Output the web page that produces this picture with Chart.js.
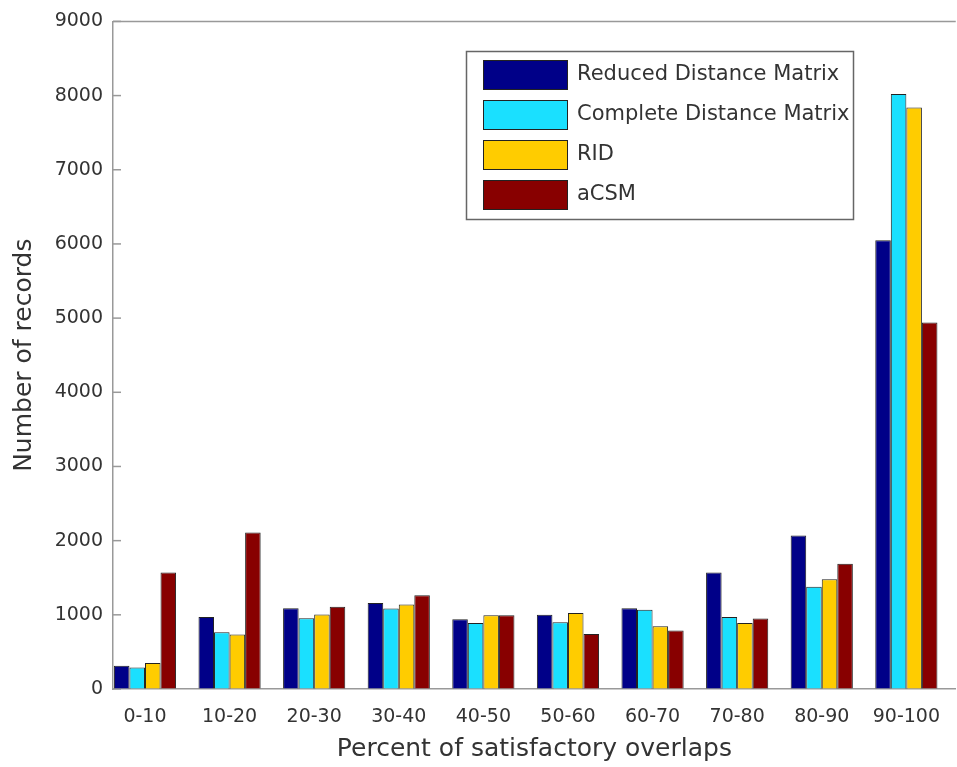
<!DOCTYPE html>
<html>
<head>
<meta charset="utf-8">
<script src="https://cdn.jsdelivr.net/npm/chart.js@4"></script>
<style>
  body { margin: 0; background: #fff; }
</style>
</head>
<body>
<canvas id="recordsChart" width="957" height="767"></canvas>
<script>
const categories = ['0-10', '10-20', '20-30', '30-40', '40-50', '50-60', '60-70', '70-80', '80-90', '90-100'];
const reducedDist = [315, 970, 1090, 1160, 940, 1000, 1090, 1570, 2070, 6050];
const completeDist = [290, 765, 955, 1085, 890, 900, 1070, 970, 1380, 8020];
const ridValues = [350, 735, 1005, 1140, 995, 1025, 845, 890, 1480, 7840];
const acsmValues = [1570, 2110, 1110, 1265, 995, 740, 790, 950, 1690, 4940];
const yTicks = [0, 1000, 2000, 3000, 4000, 5000, 6000, 7000, 8000, 9000];

const toPoints = vals => vals.map((v, i) => ({ x: i, y: v }));

const recordsData = {
    datasets: [
        { label: 'Reduced Distance Matrix', data: toPoints(reducedDist), backgroundColor: '#000088' },
        { label: 'Complete Distance Matrix', data: toPoints(completeDist), backgroundColor: '#1ae0ff' },
        { label: 'RID', data: toPoints(ridValues), backgroundColor: '#ffcc00' },
        { label: 'aCSM', data: toPoints(acsmValues), backgroundColor: '#880000' }
    ]
};
recordsData.datasets.forEach(ds => {
    ds.borderColor = '#222';
    ds.borderWidth = 1;
    ds.categoryPercentage = 0.735;
    ds.barPercentage = 1.0;
});

// top frame line + inward y ticks, matlab style
const matlabFrame = {
    id: 'matlabFrame',
    beforeDatasetsDraw(chart) {
        const { ctx, chartArea: a, scales: { y } } = chart;
        ctx.save();
        ctx.strokeStyle = '#999';
        ctx.lineWidth = 1.5;
        ctx.beginPath();
        ctx.moveTo(a.left, a.top);
        ctx.lineTo(a.right, a.top);
        ctx.stroke();
        y.ticks.forEach(t => {
            const py = y.getPixelForValue(t.value);
            ctx.beginPath();
            ctx.moveTo(a.left, py);
            ctx.lineTo(a.left + 8, py);
            ctx.stroke();
        });
        ctx.restore();
    }
};

// boxed legend inside the plot, one entry per row
const boxLegend = {
    id: 'boxLegend',
    afterDraw(chart) {
        const ctx = chart.ctx;
        ctx.save();
        ctx.fillStyle = '#fff';
        ctx.fillRect(466.5, 51.5, 387, 168);
        ctx.strokeStyle = '#666';
        ctx.lineWidth = 1.5;
        ctx.strokeRect(466.5, 51.5, 387, 168);
        ctx.font = '21px "DejaVu Sans"';
        ctx.textBaseline = 'middle';
        chart.data.datasets.forEach((ds, i) => {
            const top = 60 + i * 40;
            ctx.fillStyle = ds.backgroundColor;
            ctx.fillRect(483, top, 85, 30);
            ctx.strokeStyle = '#222';
            ctx.lineWidth = 1;
            ctx.strokeRect(483.5, top + 0.5, 84, 29);
            ctx.fillStyle = '#333';
            ctx.fillText(ds.label, 577, top + 15);
        });
        ctx.restore();
    }
};

Chart.defaults.font.family = '"DejaVu Sans"';
Chart.defaults.color = '#333';

window.addEventListener('load', () => {
    new Chart(document.getElementById('recordsChart'), {
        type: 'bar',
        data: recordsData,
        plugins: [matlabFrame, boxLegend],
        options: {
            responsive: false,
            animation: false,
            layout: { padding: { left: 0, right: 0, top: 20, bottom: 0 } },
            plugins: {
                legend: { display: false },
                tooltip: { enabled: false }
            },
            scales: {
                x: {
                    type: 'linear',
                    min: -0.378,
                    max: 9.584,
                    offset: false,
                    afterBuildTicks: s => { s.ticks = categories.map((c, i) => ({ value: i })); },
                    afterFit: s => { s.height = 78; },
                    ticks: {
                        callback: v => categories[v],
                        autoSkip: false,
                        maxRotation: 0,
                        padding: 17,
                        font: { size: 19 },
                        color: '#333'
                    },
                    grid: { display: true, drawOnChartArea: false, drawTicks: false },
                    border: { color: '#999', width: 1.5 },
                    title: {
                        display: true,
                        text: 'Percent of satisfactory overlaps',
                        font: { size: 25 },
                        color: '#333',
                        padding: { top: 0, bottom: 3 }
                    }
                },
                y: {
                    min: 0,
                    max: 9000,
                    afterBuildTicks: s => { s.ticks = yTicks.map(v => ({ value: v })); },
                    afterFit: s => { s.width = 113; },
                    ticks: {
                        callback: v => String(v),
                        padding: 10,
                        font: { size: 19 },
                        color: '#333'
                    },
                    grid: { display: true, drawOnChartArea: false, drawTicks: false },
                    border: { color: '#999', width: 1.5 },
                    title: {
                        display: true,
                        text: 'Number of records',
                        font: { size: 25 },
                        color: '#333',
                        padding: { top: 9, bottom: 0 }
                    }
                }
            }
        }
    });
});
</script>
</body>
</html>
